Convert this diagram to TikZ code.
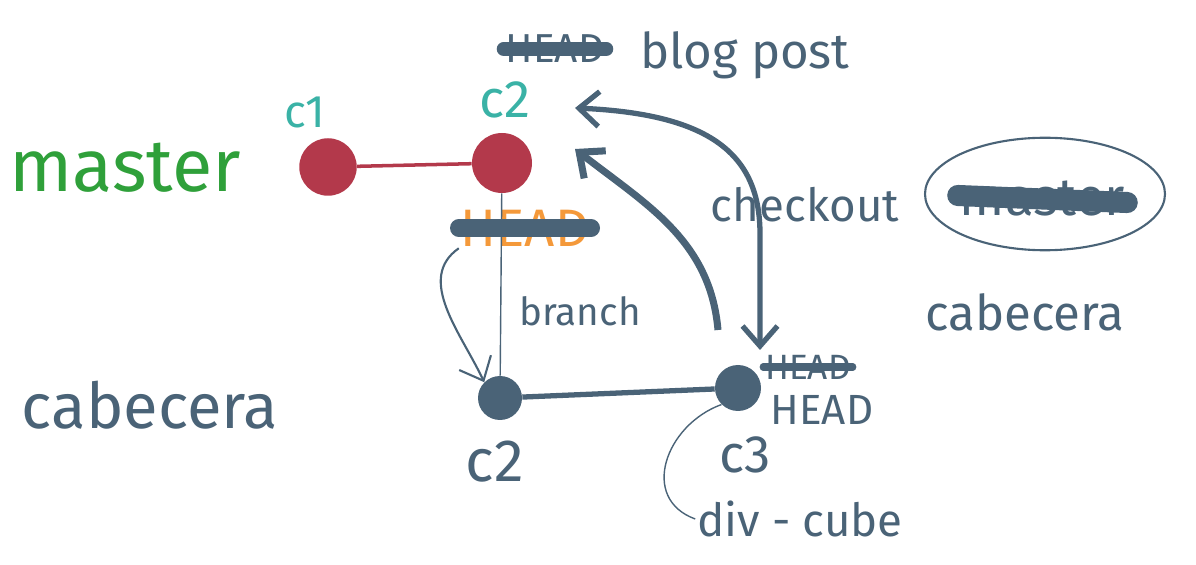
\documentclass[tikz,border=0pt]{standalone}
\usepackage{fontspec}
\setmainfont{Fira Sans}
\usetikzlibrary{arrows.meta,positioning,shapes.geometric}
\definecolor{inkblue}{HTML}{4A6377}
\definecolor{inkred}{HTML}{B3394B}
\definecolor{inkteal}{HTML}{3AB2A6}
\definecolor{inkgreen}{HTML}{2FA03A}
\definecolor{inkorange}{HTML}{F4993A}
\tikzset{
  redcommit/.style={circle, fill=inkred, minimum size=1.15cm, inner sep=0pt},
  bluecommit/.style={circle, fill=inkblue, minimum size=0.88cm, inner sep=0pt},
  ink/.style={text=inkblue, font=\fontsize{#1}{#1}\selectfont},
  strike/.style={inkblue, line width=#1, line cap=round},
}

\begin{document}
\begin{tikzpicture}[every node/.style={align=center, inner sep=1pt}, >={Straight Barb[length=4mm,width=7mm]}]
  \useasboundingbox (0,0) rectangle (23.92,11.28);
  % commits
  \node[redcommit] (c1) at (6.56,7.94) {};
  \node[redcommit, minimum size=1.2cm] (c2) at (10.04,8.02) {};
  \node[bluecommit] (c2b) at (10.0,3.32) {};
  \node[bluecommit, minimum size=0.92cm] (c3) at (14.76,3.52) {};
  % labels
  \node[text=inkgreen, font=\fontsize{42}{42}\selectfont] (master) at (2.5,7.92) {master};
  \node[ink=36] (cabl) at (3.0,3.18) {cabecera};
  \node[text=inkteal, font=\fontsize{26}{26}\selectfont] (c1lbl) at (6.1,9.04) {c1};
  \node[text=inkteal, font=\fontsize{30}{30}\selectfont] (c2lbl) at (10.1,9.28) {c2};
  \node[ink=23] (hdtop) at (11.1,10.3) {HEAD};
  \node[ink=28] (blog) at (14.9,10.18) {blog post};
  \node[text=inkorange, font=\fontsize{30}{30}\selectfont] (hdorange) at (10.5,6.72) {HEAD};
  \node[ink=22] (branch) at (11.6,5.06) {branch};
  \node[ink=34] (c2blbl) at (9.9,2.04) {c2};
  \node[ink=30] (c3lbl) at (14.9,2.18) {c3};
  \node[ink=20] (hdold) at (16.16,3.94) {HEAD};
  \node[ink=24] (hd) at (16.44,3.08) {HEAD};
  \node[ink=26] (div) at (16.0,0.9) {div - cube};
  \node[ink=26] (checkout) at (16.1,7.18) {checkout};
  \node[draw=inkblue, line width=1.2pt, ellipse, minimum width=4.8cm, minimum height=2.25cm] (circ) at (20.9,7.4) {};
  \node[ink=30] (mst) at (20.85,7.3) {master};
  \node[ink=28] (cabr) at (20.5,5.04) {cabecera};
  % crossed out
  \draw[strike=8pt] (hdtop.west) -- (hdtop.east);
  \draw[strike=10pt] (hdorange.west) -- (hdorange.east);
  \draw[strike=4pt] (hdold.west) -- (hdold.east);
  \draw[strike=12pt] ([yshift=2pt]mst.west) -- ([yshift=-2pt]mst.east);
  % history
  \draw[inkred, line width=2pt] (c1) -- (c2);
  \draw[inkblue, line width=0.8pt] (c2) -- (c2b);
  \draw[inkblue, line width=3pt] (c2b) -- (c3);
  \draw[->, inkblue, line width=1.2pt] (hdorange.south west) to[out=215, in=115] (c2b.north west);
  \coordinate (cotop) at (11.5,9.12);
  \coordinate (cobot) at (15.2,4.28);
  \coordinate (backfoot) at (14.36,4.68);
  \coordinate (backtip) at (11.5,8.3);
  \draw[<->, inkblue, line width=3pt] (cotop) .. controls (14.2,9.0) and (15.2,8.2) .. (15.2,6.6) -- (cobot);
  \draw[->, inkblue, line width=4pt] (backfoot) to[out=95, in=-38] (backtip);
  \draw[inkblue, line width=0.8pt] (c3.south west) to[out=200, in=160, looseness=1.3] (div.west);
\end{tikzpicture}
\end{document}
